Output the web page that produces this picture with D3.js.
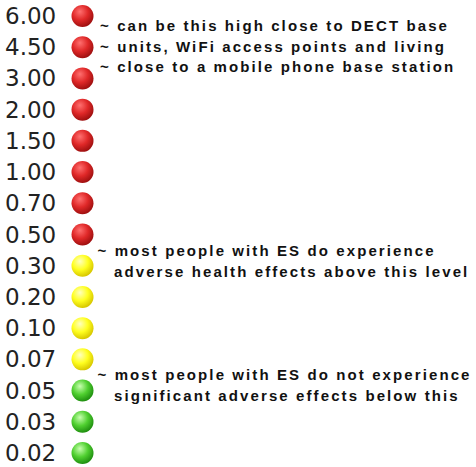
<!DOCTYPE html>
<html><head><meta charset="utf-8">
<script src="https://cdn.jsdelivr.net/npm/d3@7"></script>
<style>body{margin:0;background:#fff}</style>
</head><body>
<script>
const levels = ["6.00","4.50","3.00","2.00","1.50","1.00","0.70","0.50","0.30","0.20","0.10","0.07","0.05","0.03","0.02"];
const categories = ["red","red","red","red","red","red","red","red","yellow","yellow","yellow","yellow","green","green","green"];
const notes = [
  {after:"6.00", lines:["~ can be this high close to DECT base","~ units, WiFi access points and living","~ close to a mobile phone base station"]},
  {after:"0.50", lines:["~ most people with ES do experience","adverse health effects above this level"]},
  {after:"0.07", lines:["~ most people with ES do not experience","significant adverse effects below this"]}
];

const W=476,H=467;
const svg=d3.select("body").append("svg").attr("width",W).attr("height",H);
const y=d3.scalePoint().domain(levels).range([16,453]);
const palettes={
  red:["#ff7070","#e02828","#a01010"],
  yellow:["#ffffc0","#ffff20","#d8c800"],
  green:["#c8ffb0","#50d030","#209010"]
};
const defs=svg.append("defs");
Object.entries(palettes).forEach(([k,c])=>{
  const g=defs.append("radialGradient").attr("id","g-"+k).attr("cx","40%").attr("cy","35%").attr("r","65%").attr("fx","38%").attr("fy","30%");
  g.append("stop").attr("offset","0%").attr("stop-color",c[0]);
  g.append("stop").attr("offset","55%").attr("stop-color",c[1]);
  g.append("stop").attr("offset","100%").attr("stop-color",c[2]);
});
const rows=svg.selectAll("g.row").data(levels).join("g").attr("class","row");
rows.append("text").attr("x",5).attr("y",d=>y(d)+8)
  .attr("font-family","DejaVu Sans").attr("font-size",23).attr("fill","#222").text(d=>d);
rows.append("circle").attr("cx",82.5).attr("cy",d=>y(d)).attr("r",11)
  .attr("fill",(d,i)=>`url(#g-${categories[i]})`);

notes.forEach((n,ni)=>{
  const base=y(n.after)+ (ni===0?15:21);
  const lh= ni===0?20.5:21;
  n.lines.forEach((t,i)=>{
    const tx=svg.append("text").attr("y",base+i*lh)
      .attr("font-family","Liberation Sans, Arial").attr("font-weight","bold")
      .attr("font-size",15).attr("letter-spacing",2.1).attr("fill","#111");
    if(t.startsWith("~ ")){
      tx.attr("x", ni===0?100:97.5).text(t);
    } else {
      tx.attr("x", ni===0?116:114).text(t);
    }
  });
});
</script>
</body></html>
